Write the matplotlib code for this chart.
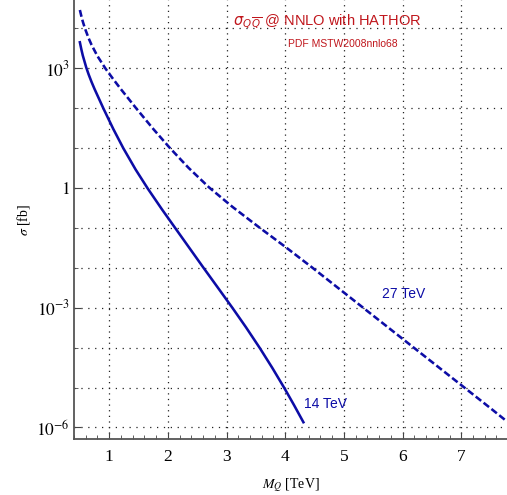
import numpy as np
import matplotlib
matplotlib.use('Agg')
import matplotlib.pyplot as plt

# cross sections (fb)
m_14 = [0.5, 0.525, 0.55, 0.61, 0.65, 0.7, 0.75, 0.9, 1.07, 1.24, 1.45, 1.66, 1.9,
        2.14, 2.37, 2.6, 2.85, 3.1, 3.33, 3.57, 3.78, 3.99, 4.15, 4.31]
sigma_14 = [4.47e3, 2.98e3, 2.08e3, 1.03e3, 6.97e2, 4.50e2, 3.02e2, 99.1, 30.0, 9.94,
            2.90, 0.953, 0.290, 9.23e-2, 3.09e-2, 1.035e-2, 3.21e-3, 9.91e-4, 3.25e-4,
            9.59e-5, 3.10e-5, 9.42e-6, 3.63e-6, 1.35e-6]

m_27 = [0.5, 0.525, 0.55, 0.586, 0.65, 0.7, 0.8, 0.94, 1.07, 1.2, 1.46, 1.75, 2.03,
        2.35, 2.7, 3.1, 3.56, 4.0, 4.46, 5.0, 5.5, 6.0, 6.5, 7.0, 7.5, 7.78]
sigma_27 = [2.88e4, 2.03e4, 1.48e4, 1.0e4, 5.62e3, 3.83e3, 2.01e3, 9.66e2, 5.30e2,
            2.98e2, 99.1, 30.2, 10.2, 3.22, 1.04, 0.337, 0.102, 3.36e-2, 1.014e-2,
            2.40e-3, 6.31e-4, 1.66e-4, 4.37e-5, 1.15e-5, 3.02e-6, 1.41e-6]

xticks = [1, 2, 3, 4, 5, 6, 7]
yticks = [1e-6, 1e-3, 1, 1e3]
ytick_labels = ['$10^{-6}$', '$10^{-3}$', '$1$', '$10^{3}$']

plt.rcParams['font.family'] = ['Liberation Serif', 'DejaVu Serif']
plt.rcParams['mathtext.fontset'] = 'stix'

blue = '#0c0ca6'
red = '#c0161c'

fig = plt.figure(figsize=(5.07, 4.95), dpi=100)
ax = fig.add_axes([74/507, 1-439/495, 433/507, 439/495])

ax.plot(m_14, sigma_14, color=blue, lw=1.85)
ax.plot(m_27, sigma_27, color=blue, lw=1.85, dashes=(2.7, 1.2))

ax.set_yscale('log')
ax.set_xlim(0.4, 7.78)
ax.set_ylim(10**-6.29, 10**4.71)

ax.set_xticks(xticks)
ax.set_xticks(np.arange(0.4, 7.8, 0.2), minor=True)
ax.set_yticks(yticks)
ax.set_yticklabels(ytick_labels)
ax.set_yticks(10.0**np.arange(-6, 5), minor=True)
ax.yaxis.set_minor_formatter(matplotlib.ticker.NullFormatter())

ax.tick_params(which='both', direction='in', color='#444', labelsize=12.5)
ax.tick_params(which='major', length=5, width=0.8)
ax.tick_params(which='minor', length=3, width=0.6)
ax.tick_params(axis='x', pad=7)
ax.tick_params(axis='y', pad=3)

ax.grid(axis='x', which='major', color='#222', lw=0.9, ls=(0, (1, 3.5)))
ax.grid(axis='y', which='both', color='#222', lw=0.9, ls=(0, (1, 4.5)))

for s in ['top', 'right']:
    ax.spines[s].set_visible(False)
for s in ['left', 'bottom']:
    ax.spines[s].set_color('#555')
    ax.spines[s].set_linewidth(1.3)

ax.set_xlabel('$M_Q$ [TeV]', fontsize=10, labelpad=8)
ax.set_ylabel(r'$\sigma$ [fb]', fontsize=10, labelpad=3)

ax.text(4.72, 10**4.17, r'$\sigma_{Q\,\overline{Q}}$ @ NNLO with HATHOR', color=red,
        fontsize=10.5, family='Liberation Sans', math_fontfamily='dejavusans',
        ha='center', va='center')
ax.text(4.98, 10**3.61, 'PDF MSTW2008nnlo68', color=red, fontsize=7.5,
        family='Liberation Sans', ha='center', va='center')
ax.text(6.01, 10**-2.66, '27 TeV', color=blue, fontsize=10,
        family='Liberation Sans', ha='center', va='center')
ax.text(4.68, 10**-5.41, '14 TeV', color=blue, fontsize=10,
        family='Liberation Sans', ha='center', va='center')

fig.savefig('out.png', dpi=100)
